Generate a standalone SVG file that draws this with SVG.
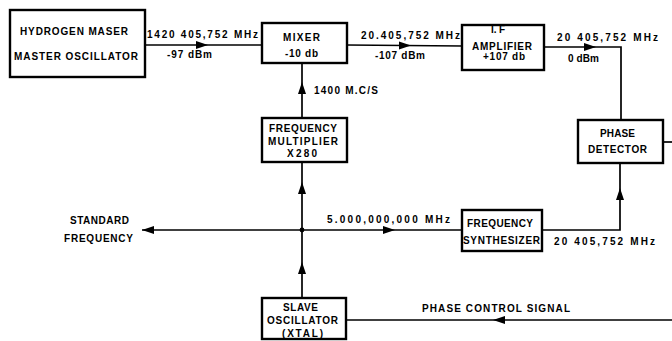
<svg xmlns="http://www.w3.org/2000/svg" width="672" height="341" viewBox="0 0 672 341">
<style>
.box{fill:#fff;stroke:#000;stroke-width:2.4}
.ln{fill:none;stroke:#000;stroke-width:1.7}
text{font-family:"Liberation Sans",Arial,sans-serif;font-weight:bold;font-size:10px;fill:#000}
</style>
<defs>
<path id="ar" d="M0,0 L-12,-4 L-12,4 Z" fill="#000"/>
</defs>
<rect width="672" height="341" fill="#fff"/>
<g id="connectors">
<line class="ln" x1="145" y1="45" x2="262" y2="45"/>
<line class="ln" x1="347" y1="45" x2="462" y2="46"/>
<polyline class="ln" points="544,47 621,47 621,120"/>
<line class="ln" x1="302" y1="63" x2="302" y2="118"/>
<line class="ln" x1="302" y1="162" x2="302" y2="298"/>
<line class="ln" x1="142" y1="230" x2="462" y2="230"/>
<polyline class="ln" points="542,230 620,230 620,163"/>
<line class="ln" x1="663" y1="142" x2="672" y2="142"/>
<line class="ln" x1="346" y1="320" x2="672" y2="320"/>
<circle cx="302" cy="230" r="2.4" fill="#000"/>
<use href="#ar" transform="translate(208,45)"/>
<use href="#ar" transform="translate(411,45.5)"/>
<use href="#ar" transform="translate(596,47)"/>
<use href="#ar" transform="translate(302,82) rotate(-90)"/>
<use href="#ar" transform="translate(302,182) rotate(-90)"/>
<use href="#ar" transform="translate(142,230) rotate(180)"/>
<use href="#ar" transform="translate(395,230)"/>
<use href="#ar" transform="translate(302,262) rotate(-90)"/>
<use href="#ar" transform="translate(620,188) rotate(-90)"/>
<use href="#ar" transform="translate(493,320) rotate(180)"/>
</g>
<g id="maser">
<rect class="box" x="10" y="10" width="135" height="67"/>
<text x="20" y="35" textLength="108" lengthAdjust="spacing">HYDROGEN MASER</text>
<text x="14" y="60" textLength="124" lengthAdjust="spacing">MASTER OSCILLATOR</text>
</g>
<g id="mixer">
<rect class="box" x="262" y="23" width="85" height="40"/>
<text x="283" y="41" textLength="37" lengthAdjust="spacing">MIXER</text>
<text x="285" y="57" textLength="33" lengthAdjust="spacing">-10 db</text>
</g>
<g id="if-amplifier">
<rect class="box" x="462" y="25" width="82" height="45"/>
<text x="491" y="33" textLength="14" lengthAdjust="spacing">I. F</text>
<text x="472" y="50" textLength="60" lengthAdjust="spacing">AMPLIFIER</text>
<text x="483" y="60" textLength="42" lengthAdjust="spacing">+107 db</text>
</g>
<g id="phase-detector">
<rect class="box" x="578" y="120" width="85" height="43"/>
<text x="600" y="137" textLength="35" lengthAdjust="spacing">PHASE</text>
<text x="588" y="153" textLength="59" lengthAdjust="spacing">DETECTOR</text>
</g>
<g id="multiplier">
<rect class="box" x="262" y="118" width="85" height="44"/>
<text x="269" y="132" textLength="68" lengthAdjust="spacing">FREQUENCY</text>
<text x="268" y="145" textLength="70" lengthAdjust="spacing">MULTIPLIER</text>
<text x="287" y="157" textLength="30" lengthAdjust="spacing">X280</text>
</g>
<g id="synthesizer">
<rect class="box" x="462" y="210" width="80" height="41"/>
<text x="467" y="227" textLength="66" lengthAdjust="spacing">FREQUENCY</text>
<text x="463" y="244" textLength="77" lengthAdjust="spacing">SYNTHESIZER</text>
</g>
<g id="slave">
<rect class="box" x="262" y="298" width="84" height="41"/>
<text x="283" y="311" textLength="35" lengthAdjust="spacing">SLAVE</text>
<text x="267" y="324" textLength="71" lengthAdjust="spacing">OSCILLATOR</text>
<text x="282" y="337" textLength="41" lengthAdjust="spacing">(XTAL)</text>
</g>
<g id="standard-frequency">
<text x="70" y="224" textLength="59" lengthAdjust="spacing">STANDARD</text>
<text x="64" y="242" textLength="69" lengthAdjust="spacing">FREQUENCY</text>
</g>
<g id="labels">
<text x="147" y="38" textLength="111" lengthAdjust="spacing">1420 405,752 MHz</text>
<text x="167" y="58" textLength="45" lengthAdjust="spacing">-97 dBm</text>
<text x="361" y="39" textLength="99" lengthAdjust="spacing">20.405,752 MHz</text>
<text x="375" y="59" textLength="50" lengthAdjust="spacing">-107 dBm</text>
<text x="314" y="94" textLength="64" lengthAdjust="spacing">1400 M.C/S</text>
<text x="557" y="41" textLength="101" lengthAdjust="spacing">20 405,752 MHz</text>
<text x="568" y="62" textLength="31" lengthAdjust="spacing">0 dBm</text>
<text x="327" y="223" textLength="123" lengthAdjust="spacing">5.000,000,000 MHz</text>
<text x="554" y="245" textLength="101" lengthAdjust="spacing">20 405,752 MHz</text>
<text x="422" y="312" textLength="148" lengthAdjust="spacing">PHASE CONTROL SIGNAL</text>
</g>
</svg>
